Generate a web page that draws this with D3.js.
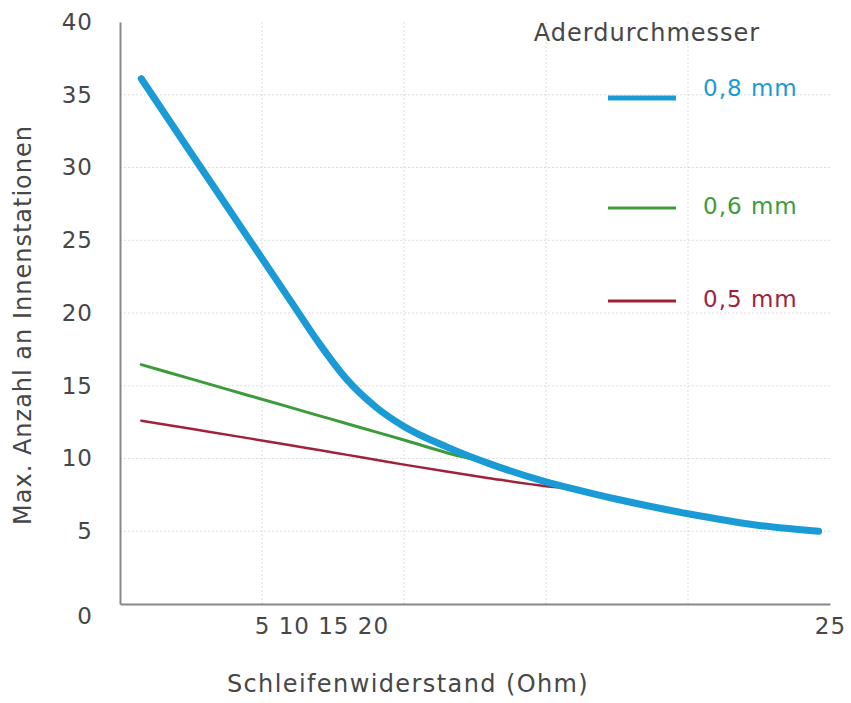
<!DOCTYPE html>
<html>
<head>
<meta charset="utf-8">
<script src="https://cdn.jsdelivr.net/npm/d3@7"></script>
<style>
  body { margin: 0; background: #fff; }
  text { font-family: "DejaVu Sans", sans-serif; fill: #474747; letter-spacing: 1px; }
</style>
</head>
<body>
<script>
// data
const xValues = [0.75, 2.5, 4.5, 6, 7, 8, 9, 10, 11.5, 13, 15, 16, 17.5, 20, 22.5, 24.6]
const blue08 = [36.1, 31.0, 25.2, 20.85, 17.95, 15.4, 13.55, 12.2, 10.8, 9.65, 8.4, 7.9, 7.2, 6.2, 5.4, 5.0]
const green06 = [16.45, 15.47, 14.35, 13.51, 12.95, 12.39, 11.83, 11.27, 10.4, 9.65, 8.4, 7.9, 7.2, 6.2, 5.4, 5.0]
const red05 = [12.6, 12.04, 11.4, 10.91, 10.59, 10.25, 9.92, 9.58, 9.1, 8.65, 8.1, 7.9, 7.2, 6.2, 5.4, 5.0]
const seriesNames = ["0,8 mm", "0,6 mm", "0,5 mm"]
const yTicks = [0, 5, 10, 15, 20, 25, 30, 35, 40]
const xTickLabels = ["5", "10", "15", "20", "25"]
const xGrid = [5, 10, 15, 20]

const colors = ["#1a9bd6", "#3c9b3a", "#a02239"]
const widths = [7, 3, 2.5]
const legendY = [98, 208, 301]

const W = 851, H = 703
const pLeft = 120, pRight = 830, pTop = 22, pBottom = 604

const svg = d3.select("body").append("svg")
    .attr("width", W)
    .attr("height", H)

const x = d3.scaleLinear().domain([0, 25]).range([pLeft, pRight])
const y = d3.scaleLinear().domain([0, 40]).range([pBottom, pTop])

// grid
svg.append("g").selectAll("line")
    .data(yTicks.filter(d => d > 0 && d < 40))
    .enter().append("line")
    .attr("x1", pLeft).attr("x2", pRight)
    .attr("y1", d => y(d)).attr("y2", d => y(d))
    .attr("stroke", "#dcdcdc")
    .attr("stroke-dasharray", "2,2")

svg.append("g").selectAll("line")
    .data(xGrid)
    .enter().append("line")
    .attr("x1", d => x(d)).attr("x2", d => x(d))
    .attr("y1", pTop).attr("y2", pBottom)
    .attr("stroke", "#dcdcdc")
    .attr("stroke-dasharray", "2,2")

// y axis
const yAxis = d3.axisLeft(y).tickValues(yTicks).tickSize(0).tickSizeOuter(0).tickPadding(27)
const gy = svg.append("g")
    .attr("transform", "translate(" + pLeft + ",0)")
    .call(yAxis)
gy.select(".domain").attr("stroke", "#888").attr("stroke-width", 2)
gy.selectAll("text").style("font-size", "23px").attr("fill", "#474747")
// the 0 sits a bit lower than its gridline in the original
gy.selectAll(".tick").filter(d => d == 0).select("text").attr("y", 12)

// x axis: first labels come out squeezed together after the 5, 25 sits on its tick
const xAxis = d3.axisBottom(x).tickValues([5, 25]).tickSize(0).tickSizeOuter(0).tickPadding(14)
    .tickFormat(d => d == 5 ? xTickLabels.slice(0, 4).join(" ") : xTickLabels[4])
const gx = svg.append("g")
    .attr("transform", "translate(0," + pBottom + ")")
    .call(xAxis)
gx.select(".domain").attr("stroke", "#888").attr("stroke-width", 2)
gx.selectAll("text").style("font-size", "23px").attr("fill", "#474747")
gx.selectAll(".tick").filter(d => d == 5).select("text")
    .attr("text-anchor", "start")
    .attr("dx", function () { return -this.getSubStringLength(0, 1) / 2 })

// lines
const line = d3.line()
    .x((d, i) => x(xValues[i]))
    .y(d => y(d))
    .curve(d3.curveMonotoneX)

const series = [blue08, green06, red05]
for (let k = 2; k >= 0; k--) {
    svg.append("path")
        .datum(series[k])
        .attr("d", line)
        .attr("fill", "none")
        .attr("stroke", colors[k])
        .attr("stroke-width", widths[k])
        .attr("stroke-linecap", "round")
}

// axis titles
svg.append("text")
    .attr("x", 408).attr("y", 692)
    .attr("text-anchor", "middle")
    .style("font-size", "24px")
    .style("letter-spacing", "1.4px")
    .text("Schleifenwiderstand (Ohm)")

svg.append("text")
    .attr("transform", "translate(31,325) rotate(-90)")
    .attr("text-anchor", "middle")
    .style("font-size", "24px")
    .style("letter-spacing", "1px")
    .text("Max. Anzahl an Innenstationen")

// legend
svg.append("text")
    .attr("x", 647).attr("y", 41)
    .attr("text-anchor", "middle")
    .style("font-size", "24px")
    .text("Aderdurchmesser")

const lg = svg.append("g").selectAll("g")
    .data(seriesNames)
    .enter().append("g")

lg.append("line")
    .attr("x1", 608).attr("x2", 676)
    .attr("y1", (d, i) => legendY[i]).attr("y2", (d, i) => legendY[i])
    .attr("stroke", (d, i) => colors[i])
    .attr("stroke-width", (d, i) => i == 0 ? 5 : 3)

lg.append("text")
    .attr("x", 703)
    .attr("y", (d, i) => legendY[i] + (i == 0 ? -2 : 6))
    .style("font-size", "23px")
    .style("fill", (d, i) => colors[i])
    .text(d => d)
</script>
</body>
</html>
